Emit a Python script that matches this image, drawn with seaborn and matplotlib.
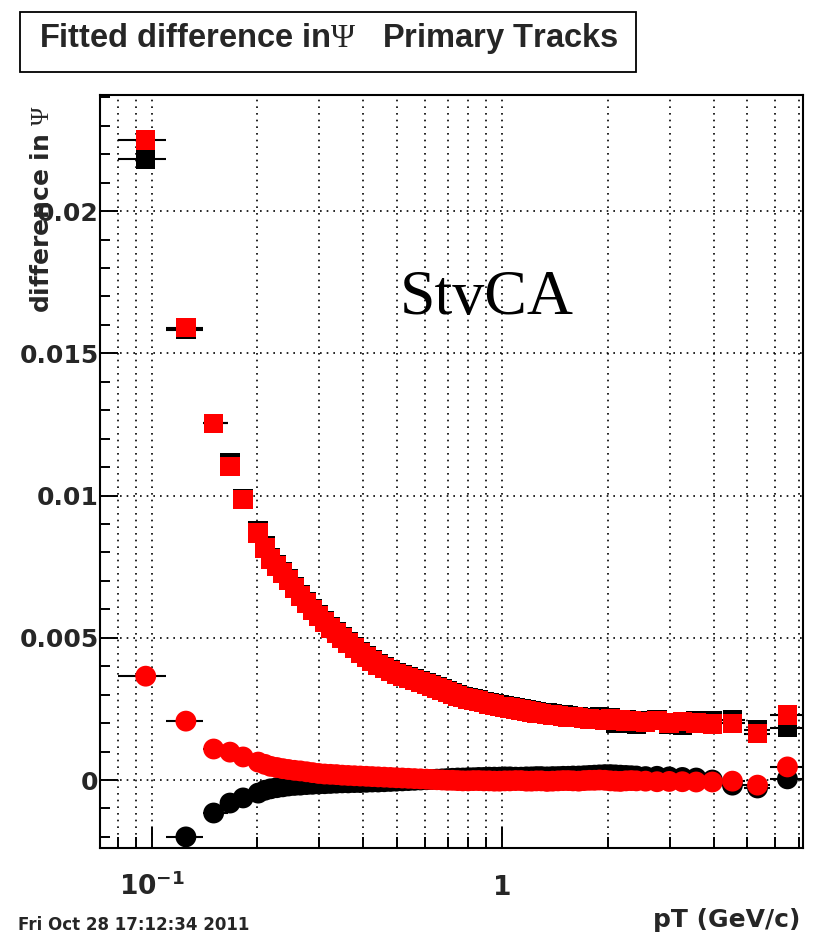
import numpy as np
import pandas as pd
import matplotlib
matplotlib.use("Agg")
import matplotlib.pyplot as plt
import matplotlib.transforms as mtransforms
from matplotlib.patches import Rectangle
from matplotlib.ticker import FixedLocator, NullFormatter
import seaborn as sns

# ---------------- data ----------------
pt = [0.096, 0.125, 0.150, 0.167, 0.182, 0.201,
      0.210, 0.218, 0.227, 0.236, 0.245, 0.255, 0.265, 0.276, 0.287, 0.299,
      0.311, 0.323, 0.336, 0.349, 0.363, 0.378, 0.393, 0.409, 0.425, 0.442,
      0.460, 0.479, 0.498, 0.518, 0.539, 0.561, 0.584, 0.607,
      0.628, 0.650, 0.673, 0.696, 0.720, 0.745, 0.771, 0.798, 0.826, 0.855,
      0.885, 0.916, 0.948, 0.981, 1.015, 1.05, 1.09, 1.13, 1.17, 1.21,
      1.25, 1.29, 1.34, 1.39, 1.44, 1.49, 1.54, 1.59, 1.65, 1.71,
      1.77, 1.83, 1.89, 1.96, 2.03, 2.10, 2.17, 2.25, 2.33, 2.41,
      2.56, 2.76, 2.99, 3.26, 3.57, 3.97, 4.53, 5.34, 6.50]

sigma_red = [0.0225, 0.0159, 0.01254, 0.01103, 0.00987, 0.00868,
             0.00815, 0.00777, 0.00752, 0.00727, 0.00703, 0.00675, 0.00647, 0.00622, 0.00597, 0.00576,
             0.00555, 0.00534, 0.00517, 0.00499, 0.00481, 0.00464, 0.00446, 0.00432, 0.00418, 0.00404,
             0.00394, 0.00383, 0.00372, 0.00365, 0.00358, 0.00351, 0.00344, 0.00337,
             0.00330, 0.00323, 0.00316, 0.00309, 0.00302, 0.00296, 0.00290, 0.00285, 0.00281, 0.00277,
             0.00272, 0.00267, 0.00263, 0.00259, 0.00256, 0.00253, 0.00249, 0.00246, 0.00242, 0.00239,
             0.00236, 0.00234, 0.00231, 0.00228, 0.00226, 0.00224, 0.00222, 0.00221, 0.00219, 0.00217,
             0.00215, 0.00213, 0.00212, 0.00211, 0.00214, 0.00209, 0.00212, 0.00207, 0.00210, 0.00206,
             0.00204, 0.00209, 0.00201, 0.00205, 0.00200, 0.00197, 0.00199, 0.00163, 0.00228]

sigma_black = [0.02182, 0.01583, 0.01254, 0.01114, 0.00990, 0.00875,
               0.00822, 0.00783, 0.00758, 0.00733, 0.00709, 0.00681, 0.00653, 0.00627, 0.00602, 0.00581,
               0.00560, 0.00539, 0.00522, 0.00504, 0.00486, 0.00469, 0.00451, 0.00437, 0.00422, 0.00408,
               0.00398, 0.00387, 0.00376, 0.00369, 0.00362, 0.00355, 0.00348, 0.00341,
               0.00334, 0.00327, 0.00320, 0.00313, 0.00306, 0.00300, 0.00294, 0.00289, 0.00285, 0.00281,
               0.00276, 0.00271, 0.00267, 0.00263, 0.00260, 0.00257, 0.00253, 0.00250, 0.00246, 0.00243,
               0.00240, 0.00238, 0.00235, 0.00232, 0.00230, 0.00228, 0.00226, 0.00224, 0.00222, 0.00220,
               0.00218, 0.00219, 0.00222, 0.00220, 0.00218, 0.00200, 0.00198, 0.00212, 0.00210, 0.00196,
               0.00210, 0.00213, 0.00195, 0.00192, 0.00209, 0.00210, 0.00212, 0.00177, 0.00184]

mean_red = [0.00365, 0.00207, 0.00109, 0.00098, 0.00081, 0.00063,
            0.00055, 0.00048, 0.00044, 0.00040, 0.00037, 0.00034, 0.00032, 0.00029, 0.00026, 0.00023,
            0.00021, 0.00020, 0.00019, 0.00017, 0.00016, 0.00015, 0.00014, 0.00013, 0.00012, 0.00011,
            0.00010, 0.00009, 0.00008, 0.00007, 0.00006, 0.00005, 0.00004, 0.00003,
            0.00002, 0.00001, 0.00000, -0.00001, -0.00001, -0.00002, -0.00003, -0.00003, -0.00002, -0.00002,
            -0.00003, -0.00003, -0.00004, -0.00004, -0.00003, -0.00003, -0.00002, -0.00002, -0.00004, -0.00004,
            -0.00003, -0.00003, -0.00005, -0.00004, -0.00003, -0.00002, -0.00002, -0.00003, -0.00004, -0.00002,
            -0.00001, -0.00001, 0.00000, -0.00001, -0.00003, -0.00004, -0.00005, -0.00003, -0.00002, -0.00003,
            -0.00004, -0.00006, -0.00005, -0.00006, -0.00007, -0.00007, -0.00004, -0.00018, 0.00046]

mean_black = [np.nan, -0.00200, -0.00116, -0.00081, -0.00063, -0.00046,
              -0.00036, -0.00031, -0.00027, -0.00024, -0.00021, -0.00019, -0.00018, -0.00016, -0.00015, -0.00014,
              -0.00013, -0.00012, -0.00011, -0.00010, -0.00010, -0.00009, -0.00009, -0.00008, -0.00007, -0.00007,
              -0.00006, -0.00005, -0.00004, -0.00003, -0.00002, -0.00001, 0.00000, 0.00001,
              0.00002, 0.00003, 0.00004, 0.00005, 0.00006, 0.00007, 0.00007, 0.00008, 0.00008, 0.00009,
              0.00009, 0.00010, 0.00010, 0.00010, 0.00011, 0.00011, 0.00010, 0.00010, 0.00011, 0.00011,
              0.00012, 0.00012, 0.00011, 0.00012, 0.00012, 0.00013, 0.00013, 0.00014, 0.00014, 0.00015,
              0.00016, 0.00017, 0.00018, 0.00019, 0.00019, 0.00018, 0.00017, 0.00016, 0.00015, 0.00014,
              0.00012, 0.00013, 0.00011, 0.00009, 0.00007, 0.00000, -0.00018, -0.00028, 0.00004]

pt_err_lo = [0.016, 0.015, 0.010] + [0.0] * 75 + [0.20, 0.20, 0.35, 0.44, 0.71]
pt_err_hi = [0.014, 0.015, 0.015] + [0.0] * 75 + [0.20, 0.25, 0.40, 0.45, 0.70]

y_major_ticks = [0.0, 0.005, 0.01, 0.015, 0.02]
y_tick_labels = ["0", "0.005", "0.01", "0.015", "0.02"]
x_major_ticks = [0.1, 1.0]
x_tick_labels = [r"$10^{-1}$", "1"]
x_minor_ticks = [0.08, 0.09, 0.2, 0.3, 0.4, 0.5, 0.6, 0.7, 0.8, 0.9,
                 2, 3, 4, 5, 6, 7]

title_text = r"Fitted difference in$\mathsf{\Psi}$   Primary Tracks"
ylabel_text = r"difference in $\mathsf{\Psi}$"
xlabel_text = "pT (GeV/c)"
note_text = "StvCA"
date_text = "Fri Oct 28 17:12:34 2011"

# ---------------- style ----------------
sns.set_style("white")
plt.rcParams['font.family'] = ['DejaVu Sans']
plt.rcParams['mathtext.fontset'] = 'custom'
plt.rcParams['mathtext.rm'] = 'DejaVu Sans:bold'
plt.rcParams['mathtext.bf'] = 'DejaVu Sans:bold'
plt.rcParams['mathtext.sf'] = 'Liberation Serif'
plt.rcParams['mathtext.it'] = 'DejaVu Sans:bold'

W, H = 814, 938
fig = plt.figure(figsize=(W / 100, H / 100), dpi=100)
fig.patch.set_facecolor('white')

L, R, T, B = 100, 803, 95, 848
ax = fig.add_axes([L / W, 1 - B / H, (R - L) / W, (B - T) / H])
ax.set_facecolor('white')

df = pd.DataFrame({"pT": pt, "sigma_black": sigma_black, "sigma_red": sigma_red,
                   "mean_black": mean_black, "mean_red": mean_red})

# error bars (drawn in black like ROOT)
for col in ["sigma_black", "mean_black", "sigma_red", "mean_red"]:
    ax.errorbar(df["pT"], df[col], xerr=[pt_err_lo, pt_err_hi], fmt='none',
                ecolor='black', elinewidth=1.5, capsize=0, zorder=2)

# markers
series = [("sigma_black", "s", "black", 196),
          ("mean_black", "o", "black", 225),
          ("sigma_red", "s", "#ff0000", 196),
          ("mean_red", "o", "#ff0000", 225)]
for col, mk, colr, sz in series:
    sns.scatterplot(data=df, x="pT", y=col, marker=mk, color=colr, s=sz,
                    linewidth=0, edgecolor='none', ax=ax, zorder=3, legend=False)

ax.set_xscale('log')
ax.set_xlim(0.0711, 7.2)
ax.set_ylim(-0.00239, 0.02408)

ax.xaxis.set_major_locator(FixedLocator(x_major_ticks))
ax.xaxis.set_minor_locator(FixedLocator(x_minor_ticks))
ax.xaxis.set_major_formatter(NullFormatter())
ax.xaxis.set_minor_formatter(NullFormatter())
ax.yaxis.set_major_locator(FixedLocator(y_major_ticks))
ax.yaxis.set_minor_locator(FixedLocator(np.arange(-0.002, 0.0245, 0.001)))
ax.set_yticklabels(y_tick_labels)
ax.set_xlabel("")
ax.set_ylabel("")

ax.tick_params(axis='x', which='major', direction='in', length=15, width=1.4, color='black',
               top=False, bottom=True)
ax.tick_params(axis='x', which='minor', direction='in', length=8, width=1.4, color='black',
               top=False, bottom=True)
ax.tick_params(axis='y', which='major', direction='in', length=13, width=1.4, color='black',
               right=False, left=True, pad=1, labelsize=18)
ax.tick_params(axis='y', which='minor', direction='in', length=7, width=1.4, color='black',
               right=False, left=True)
for lbl in ax.get_yticklabels():
    lbl.set_fontweight('bold')
    lbl.set_family('DejaVu Sans')

for sp in ax.spines.values():
    sp.set_visible(True)
    sp.set_color('black')
    sp.set_linewidth(1.5)

grid_kw = dict(color='black', linestyle=(0, (1, 3)), linewidth=1.2)
ax.grid(True, which='both', axis='x', **grid_kw)
ax.grid(True, which='major', axis='y', **grid_kw)
ax.grid(False, which='minor', axis='y')
ax.set_axisbelow(True)

# x tick labels with common baseline (ROOT style)
trans = mtransforms.blended_transform_factory(ax.transData, fig.transFigure)
for xv, lab in zip(x_major_ticks, x_tick_labels):
    ax.text(xv, 1 - 895 / H, lab, transform=trans, ha='center', va='baseline',
            fontsize=19, fontweight='bold', family='DejaVu Sans', clip_on=False)

# axis titles
fig.text(800 / W, 1 - 927 / H, xlabel_text, ha='right', va='baseline',
         fontsize=18, fontweight='bold', family='DejaVu Sans')
fig.text(42 / W, 1 - 105 / H, ylabel_text, ha='center', va='top', rotation=90,
         fontsize=18, fontweight='bold', family='DejaVu Sans')

# title box
fig.patches.append(Rectangle((20 / W, 1 - 72 / H), 616 / W, 60 / H, transform=fig.transFigure,
                             facecolor='white', edgecolor='black', linewidth=1.3, zorder=5))
fig.text(329 / W, 1 - 47 / H, title_text, ha='center', va='baseline',
         fontsize=23.5, fontweight='bold', family='Liberation Sans', zorder=6)

# annotation
ax.text(400, 1 - 314 / H, note_text, transform=mtransforms.blended_transform_factory(
        mtransforms.IdentityTransform(), fig.transFigure),
        ha='left', va='baseline', fontsize=46, family='Liberation Serif', color='black')

# date stamp
fig.text(18 / W, 1 - 930 / H, date_text, ha='left', va='baseline',
         fontsize=12, fontweight='bold', family='DejaVu Sans')

fig.savefig("out.png", dpi=100, facecolor='white')
